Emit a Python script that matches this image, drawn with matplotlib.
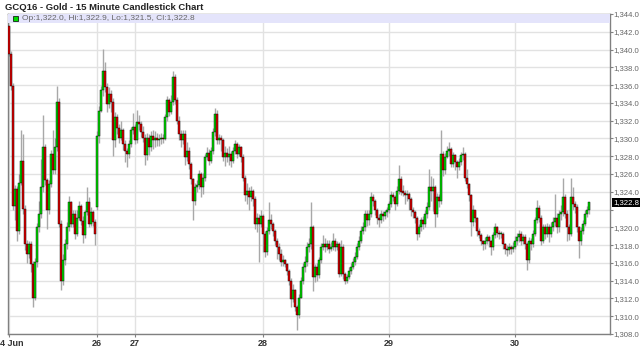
import numpy as np
import matplotlib
matplotlib.use('Agg')
import matplotlib.pyplot as plt
from matplotlib.patches import Rectangle
import matplotlib.transforms as mtransforms

plt.rcParams['font.family'] = ['Liberation Sans', 'DejaVu Sans']

title = "GCQ16 - Gold - 15 Minute Candlestick Chart"
legend_txt = "Op:1,322.0, Hi:1,322.9, Lo:1,321.5, Cl:1,322.8"

# 15 minute bars (open = previous close except gaps)
close = [
    # 24 Jun
    1339.5, 1335.9, 1322.4, 1324.3, 1319.6, 1325.0, 1327.5, 1322.1, 1318.1, 1317.0,
    1318.1, 1315.9, 1312.1, 1316.1, 1320.0, 1321.5, 1324.5, 1329.0, 1325.3, 1321.9,
    1324.9, 1328.3, 1326.4, 1329.0, 1334.1, 1320.4, 1314.0, 1316.3, 1318.1, 1320.0,
    1322.8, 1320.4, 1321.5, 1319.3, 1321.1, 1322.4, 1320.7, 1319.1, 1321.7, 1322.8,
    1320.4, 1321.7, 1320.6, 1319.2,
    # 26 / 27
    1330.3, 1333.1, 1335.4, 1337.6, 1335.8, 1333.9, 1335.0, 1334.1, 1329.8, 1332.4,
    1331.2, 1330.1, 1330.9, 1329.4, 1328.6, 1328.3, 1329.4, 1330.9, 1331.3, 1329.8,
    1331.8, 1331.6, 1330.7, 1330.1, 1328.1, 1330.1, 1329.0, 1330.3, 1329.8, 1330.1,
    1329.8, 1329.9, 1330.1, 1329.9, 1332.4, 1334.3, 1333.0, 1334.1, 1336.9, 1334.3,
    1332.0, 1330.5, 1329.8, 1330.5, 1327.9, 1328.6, 1327.1, 1325.4, 1323.0, 1324.5,
    1324.8,
    1326.0, 1324.5, 1325.6, 1327.9, 1328.4, 1327.5, 1328.6, 1330.7, 1332.8, 1329.8,
    1330.1, 1329.8, 1327.9, 1328.4, 1327.9, 1328.3, 1327.5, 1328.6, 1329.4, 1328.3,
    1329.0, 1327.9, 1325.6, 1323.6, 1324.1, 1323.4, 1324.1, 1323.2, 1320.4, 1321.1,
    1320.4, 1321.3, 1319.3, 1317.2, 1319.6, 1320.8, 1320.4, 1319.6, 1318.5, 1317.8,
    1317.0, 1316.1, 1316.3, 1315.9, 1315.1, 1314.0, 1311.9, 1312.9, 1311.0, 1310.1,
    1312.1,
    # 28 / 29
    1314.0, 1315.5, 1316.1, 1317.8, 1318.1, 1320.0, 1314.4, 1315.5, 1314.6, 1316.3,
    1317.8, 1318.1, 1317.8, 1318.1, 1317.6, 1317.8, 1318.5, 1317.8, 1318.1, 1314.8,
    1317.8, 1314.8, 1314.0, 1314.4, 1315.1, 1315.5, 1316.1, 1316.7, 1317.8, 1318.5,
    1319.6, 1320.0, 1321.5, 1320.8, 1321.5, 1323.4, 1323.0, 1321.9, 1321.1, 1320.8,
    1321.5, 1321.3, 1321.7, 1321.9, 1322.6, 1323.6, 1323.4, 1322.6, 1324.1, 1325.4,
    1324.0,
    1323.9, 1323.6, 1323.8, 1323.2, 1321.9, 1321.7, 1321.1, 1319.3, 1320.0, 1320.8,
    1320.4, 1321.5, 1322.3, 1324.5, 1324.1, 1324.5, 1321.5, 1323.4, 1323.0, 1328.3,
    1326.4, 1327.9, 1328.6, 1328.8, 1327.1, 1328.1, 1327.3, 1326.8, 1327.3, 1328.1,
    1328.3, 1325.6, 1324.9, 1323.6, 1320.6, 1321.9, 1321.1, 1319.6, 1319.1, 1318.5,
    1318.1, 1318.5, 1318.9, 1318.5, 1317.8, 1319.1, 1320.0, 1319.4, 1319.2, 1319.3,
    1318.1,
    # 30
    1317.6, 1317.4, 1317.8, 1317.6, 1317.8, 1318.5, 1318.9, 1319.3, 1318.5, 1318.9,
    1318.1, 1316.3, 1318.5, 1318.1, 1319.3, 1320.8, 1322.2, 1321.1, 1318.5, 1320.0,
    1319.3, 1320.0, 1319.3, 1320.0, 1320.6, 1321.1, 1320.0, 1321.5, 1321.7, 1323.4,
    1321.5, 1320.0, 1319.3, 1323.4, 1322.6, 1322.3, 1320.0, 1318.5, 1319.6, 1320.4,
    1321.5, 1322.0, 1322.8,
]

high = [
    1342.6, 1339.8, 1336.2, 1324.8, 1324.6, 1326.0, 1331.0, 1330.5, 1322.5, 1318.6,
    1318.5, 1318.5, 1316.2, 1316.5, 1320.5, 1323.0, 1327.7, 1332.6, 1329.4, 1325.6,
    1325.3, 1328.7, 1330.9, 1330.0, 1335.9, 1334.5, 1320.8, 1317.0, 1318.7, 1320.6,
    1323.5, 1323.0, 1322.0, 1321.9, 1322.0, 1323.0, 1322.6, 1321.3, 1322.0, 1324.5,
    1323.4, 1322.3, 1322.0, 1320.9,
    1330.8, 1333.6, 1335.9, 1340.1, 1338.6, 1336.2, 1335.8, 1335.4, 1334.5, 1333.0,
    1332.8, 1331.6, 1332.0, 1331.2, 1329.8, 1328.9, 1329.8, 1331.3, 1332.9, 1331.6,
    1333.2, 1332.6, 1332.0, 1331.4, 1330.5, 1330.6, 1330.5, 1330.8, 1330.9, 1330.8,
    1330.6, 1330.5, 1330.6, 1330.5, 1332.8, 1334.8, 1334.6, 1334.9, 1337.6, 1337.3,
    1334.7, 1332.5, 1331.0, 1331.0, 1330.9, 1329.6, 1329.0, 1327.3, 1325.6, 1325.0,
    1325.3,
    1326.4, 1326.2, 1326.1, 1328.3, 1329.0, 1328.8, 1329.0, 1331.2, 1333.4, 1333.2,
    1330.5, 1330.4, 1330.0, 1329.2, 1328.9, 1329.1, 1328.6, 1329.0, 1329.8, 1329.6,
    1329.4, 1329.2, 1328.2, 1325.9, 1325.0, 1324.5, 1324.6, 1324.3, 1323.5, 1321.6,
    1321.5, 1322.0, 1321.5, 1319.6, 1320.0, 1322.8, 1321.5, 1320.6, 1319.8, 1318.8,
    1318.2, 1317.6, 1316.9, 1316.4, 1316.0, 1315.3, 1314.3, 1313.6, 1313.1, 1311.3,
    1312.5,
    1314.4, 1316.0, 1316.8, 1318.4, 1318.8, 1322.8, 1320.3, 1315.9, 1316.0, 1316.7,
    1318.2, 1319.1, 1318.8, 1318.6, 1318.6, 1318.3, 1319.4, 1318.8, 1318.5, 1318.3,
    1318.6, 1318.1, 1315.0, 1314.8, 1315.5, 1316.0, 1316.5, 1317.2, 1318.2, 1319.0,
    1320.1, 1320.6, 1322.0, 1321.9, 1322.0, 1324.0, 1323.8, 1323.2, 1322.2, 1321.5,
    1321.9, 1321.8, 1322.0, 1322.3, 1323.0, 1324.1, 1324.0, 1323.6, 1324.7, 1327.0,
    1325.8,
    1324.8, 1324.2, 1324.2, 1324.0, 1323.4, 1322.3, 1322.0, 1321.3, 1320.4, 1321.2,
    1321.3, 1321.9, 1322.8, 1326.6, 1325.8, 1325.6, 1324.8, 1323.9, 1323.8, 1330.9,
    1328.6, 1328.4, 1329.2, 1329.6, 1329.0, 1328.5, 1328.3, 1327.6, 1327.8, 1328.5,
    1329.0, 1328.5, 1326.6, 1325.0, 1323.8, 1322.5, 1322.0, 1321.2, 1319.9, 1319.4,
    1318.6, 1318.9, 1319.3, 1319.1, 1318.6, 1319.5, 1320.5, 1320.2, 1319.7, 1319.6,
    1319.5,
    1318.2, 1318.0, 1318.2, 1318.0, 1318.3, 1319.0, 1319.4, 1319.7, 1319.6, 1319.3,
    1319.2, 1318.4, 1318.9, 1318.8, 1319.7, 1321.2, 1323.1, 1322.5, 1321.4, 1320.4,
    1320.4, 1320.5, 1320.4, 1320.6, 1321.2, 1323.7, 1321.6, 1322.0, 1322.5, 1325.5,
    1323.8, 1321.9, 1320.4, 1325.6, 1324.5, 1323.0, 1322.6, 1320.2, 1320.0, 1320.8,
    1321.9, 1322.4, 1322.9,
]

low = [
    1339.3, 1335.5, 1322.0, 1320.8, 1318.5, 1319.3, 1324.8, 1321.5, 1317.5, 1316.0,
    1316.5, 1315.0, 1311.0, 1311.8, 1315.5, 1319.5, 1321.0, 1324.0, 1324.8, 1319.8,
    1321.5, 1324.5, 1326.0, 1326.0, 1328.6, 1320.0, 1313.0, 1313.5, 1315.8, 1317.6,
    1319.6, 1320.0, 1320.0, 1318.7, 1319.0, 1320.8, 1320.3, 1318.2, 1318.8, 1321.4,
    1320.0, 1320.2, 1320.2, 1318.0,
    1322.0, 1329.5, 1333.0, 1334.8, 1335.2, 1333.0, 1333.4, 1333.0, 1328.0, 1329.0,
    1330.5, 1329.5, 1329.8, 1328.7, 1327.4, 1326.8, 1327.8, 1329.0, 1330.5, 1329.4,
    1329.5, 1331.0, 1330.2, 1329.6, 1327.0, 1327.6, 1328.1, 1328.6, 1328.8, 1329.0,
    1329.2, 1329.1, 1329.4, 1329.5, 1329.8, 1332.0, 1332.5, 1332.8, 1333.8, 1333.9,
    1331.6, 1329.8, 1329.0, 1329.4, 1327.0, 1327.5, 1326.6, 1324.9, 1320.8, 1322.5,
    1324.0,
    1324.3, 1323.4, 1323.8, 1325.2, 1327.6, 1327.0, 1327.2, 1328.2, 1330.3, 1329.4,
    1329.4, 1328.6, 1327.5, 1326.9, 1327.4, 1327.0, 1326.8, 1327.2, 1328.3, 1327.8,
    1328.0, 1327.3, 1325.2, 1323.0, 1322.6, 1322.0, 1323.0, 1322.4, 1319.8, 1319.5,
    1316.1, 1320.0, 1317.2, 1316.7, 1316.9, 1319.3, 1319.8, 1319.0, 1318.0, 1316.4,
    1316.3, 1315.6, 1315.6, 1315.5, 1314.6, 1313.5, 1311.0, 1311.6, 1310.6, 1308.5,
    1309.8,
    1312.0, 1313.6, 1315.0, 1315.6, 1317.2, 1317.6, 1312.8, 1313.8, 1314.0, 1314.3,
    1316.0, 1317.5, 1317.2, 1317.4, 1317.1, 1317.3, 1317.5, 1317.3, 1317.4, 1314.4,
    1314.5, 1314.2, 1313.6, 1313.7, 1314.2, 1314.8, 1315.3, 1315.8, 1316.4, 1317.4,
    1318.2, 1319.2, 1319.6, 1320.2, 1320.3, 1321.2, 1322.4, 1321.4, 1320.4, 1320.0,
    1320.5, 1320.7, 1320.9, 1321.2, 1321.6, 1322.3, 1323.0, 1322.0, 1322.4, 1323.8,
    1323.6,
    1323.5, 1322.6, 1323.0, 1322.0, 1321.3, 1321.0, 1320.5, 1318.6, 1318.9, 1319.6,
    1319.8, 1320.0, 1321.0, 1322.0, 1323.0, 1321.8, 1320.0, 1321.2, 1322.3, 1322.6,
    1325.8, 1326.0, 1327.8, 1328.0, 1326.8, 1326.8, 1326.4, 1325.5, 1326.5, 1327.0,
    1327.6, 1325.2, 1324.4, 1323.0, 1319.0, 1320.2, 1320.6, 1319.0, 1318.8, 1318.0,
    1317.5, 1317.6, 1318.1, 1317.8, 1316.9, 1317.5, 1318.8, 1318.9, 1318.7, 1318.8,
    1317.6,
    1317.0, 1316.8, 1317.0, 1317.0, 1317.2, 1317.6, 1318.0, 1318.4, 1318.0, 1318.1,
    1317.6, 1315.2, 1316.0, 1317.4, 1317.8, 1319.0, 1320.5, 1320.6, 1318.0, 1318.2,
    1318.7, 1318.9, 1318.4, 1318.9, 1319.6, 1320.2, 1319.4, 1319.5, 1320.8, 1321.3,
    1321.0, 1318.5, 1318.6, 1319.0, 1322.0, 1321.6, 1319.5, 1316.5, 1318.0, 1319.2,
    1320.2, 1321.2, 1321.5,
]

gap_open = {0: 1342.6, 44: 1322.3}

day_pos = [0, 44, 63, 127, 190, 253]
day_labels = ['24 Jun', '26', '27', '28', '29', '30']

close = np.array(close)
high = np.array(high)
low = np.array(low)
opn = np.concatenate([[close[0]], close[:-1]])
for k, v in gap_open.items():
    opn[k] = v
high = np.maximum(high, np.maximum(opn, close))
low = np.minimum(low, np.minimum(opn, close))
x = np.arange(len(close))

fig = plt.figure(figsize=(6.4, 3.63), dpi=100)
ax = fig.add_axes([8 / 640, 29 / 363, 602 / 640, 320 / 363])

up = close >= opn
colors = np.where(up, '#00dd00', '#e00000')
bottom = np.minimum(opn, close)
height = np.maximum(np.abs(close - opn), 0.15)

ax.vlines(x, low, high, color='#a8a8a8', lw=1.0, zorder=2)
ax.bar(x, height, bottom=bottom, width=0.9, color=colors,
       edgecolor='black', linewidth=0.3, zorder=3)

ax.set_xlim(-0.5, 300.5)
ax.set_ylim(1308, 1344)

yt = np.arange(1308, 1345, 2)
ax.set_yticks(yt)
last = close[-1]
ax.set_yticklabels(['' if abs(v - last) < 0.9 else f'{v:,.1f}' for v in yt])
ax.yaxis.tick_right()
ax.tick_params(axis='y', labelsize=5.6, colors='#808080', labelcolor='#666666',
               length=2, width=0.8, pad=0.5)
ax.set_xticks(day_pos)
ax.set_xticklabels(day_labels, fontweight='bold')
ax.tick_params(axis='x', labelsize=6.5, labelcolor='#333333', colors='#808080',
               length=2, pad=1.5)

ax.grid(True, color='#e2e2e2', lw=1)
ax.set_axisbelow(True)
for s in ax.spines.values():
    s.set_color('#808080')
    s.set_linewidth(1)

# legend band at the top of the plot
band_h = 9 / 320
ax.add_patch(Rectangle((0, 1 - band_h), 1, band_h, transform=ax.transAxes,
                       facecolor='#e4e4fb', edgecolor='none', zorder=4))
ax.add_patch(Rectangle((5 / 602, 1 - band_h + 2 / 320), 5 / 602, 5 / 320,
                       transform=ax.transAxes, facecolor='#00dd00',
                       edgecolor='black', lw=0.5, zorder=5))
ax.text(14 / 602, 1 - band_h / 2, legend_txt, transform=ax.transAxes,
        fontsize=6, color='#666666', va='center', ha='left', zorder=5)

# last price tag
trans = mtransforms.blended_transform_factory(ax.transAxes, ax.transData)
ax.text(1 + 3 / 602, last, f'{last:,.1f}', transform=trans, fontsize=5.6,
        color='white', va='center', ha='left', clip_on=False,
        bbox=dict(boxstyle='square,pad=0.12', facecolor='black', edgecolor='none'))

fig.text(5 / 640, 1 - 7 / 363, title, fontsize=6.8, fontweight='bold',
         color='#222222', va='center', ha='left')

fig.savefig('out.png', dpi=100, facecolor='white')
